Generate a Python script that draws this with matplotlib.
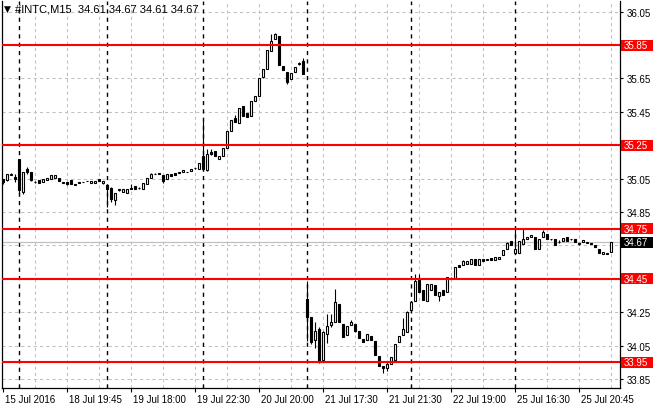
import matplotlib
matplotlib.use("Agg")
import matplotlib.pyplot as plt
import matplotlib.transforms as mtransforms
from matplotlib.patches import Rectangle

plt.rcParams["font.family"] = ["Liberation Sans", "DejaVu Sans"]

# --- data (one entry per bar) ---
title_text = "#INTC,M15  34.61 34.67 34.61 34.67"

open_ = [
    35.05, 35.04, 35.07, 35.06, 35.17, 34.97, 35.11, 35.09, 35.03, 35.04,
    35.03, 35.04, 35.05, 35.055, 35.055, 35.025, 35.03, 35.04, 35.01, 35.03,
    35.03, 35.035, 35.025, 35.025, 35.05, 35.022, 35.01, 34.996, 34.92, 34.98,
    34.97, 34.966, 34.995, 35.006, 34.994, 34.99, 35.02, 35.056, 35.075, 35.086,
    35.07, 35.05, 35.076, 35.082, 35.086, 35.09, 35.09, 35.096, 35.112, 35.11,
    35.186, 35.10, 35.21, 35.217, 35.17, 35.186, 35.235, 35.337, 35.413, 35.382,
    35.483, 35.443, 35.427, 35.517, 35.547, 35.66, 35.707, 35.815, 35.886, 35.905,
    35.725, 35.69, 35.645, 35.69, 35.738, 35.755, 34.33, 34.224, 34.086, 34.15,
    33.966, 34.118, 34.174, 34.194, 34.30, 34.18, 34.116, 34.176, 34.18, 34.14,
    34.09, 34.086, 34.108, 34.08, 33.988, 33.93, 33.918, 33.938, 33.966, 34.07,
    34.114, 34.134, 34.266, 34.32, 34.455, 34.384, 34.32, 34.38, 34.414, 34.35,
    34.384, 34.37, 34.45, 34.454, 34.534, 34.534, 34.54, 34.538, 34.566, 34.534,
    34.57, 34.564, 34.574, 34.564, 34.566, 34.59, 34.63, 34.674, 34.606, 34.606,
    34.66, 34.686, 34.70, 34.70, 34.63, 34.70, 34.72, 34.686, 34.686, 34.67,
    34.674, 34.70, 34.686, 34.686, 34.66, 34.67, 34.666, 34.66, 34.65, 34.626,
    34.598, 34.60, 34.61,
]
high = [
    35.05, 35.08, 35.085, 35.08, 35.17, 35.09, 35.12, 35.09, 35.035, 35.04,
    35.045, 35.055, 35.07, 35.07, 35.055, 35.028, 35.03, 35.04, 35.02, 35.03,
    35.032, 35.037, 35.035, 35.037, 35.05, 35.035, 35.02, 35.0, 34.966, 34.99,
    34.99, 34.99, 35.02, 35.006, 35.0, 35.026, 35.056, 35.086, 35.082, 35.086,
    35.07, 35.08, 35.076, 35.082, 35.088, 35.10, 35.092, 35.11, 35.114, 35.142,
    35.397, 35.226, 35.226, 35.217, 35.186, 35.233, 35.337, 35.40, 35.43, 35.473,
    35.483, 35.443, 35.517, 35.543, 35.65, 35.705, 35.823, 35.915, 35.92, 35.905,
    35.725, 35.69, 35.68, 35.72, 35.75, 35.77, 34.434, 34.224, 34.194, 34.16,
    34.14, 34.24, 34.24, 34.386, 34.30, 34.18, 34.166, 34.204, 34.18, 34.14,
    34.09, 34.118, 34.108, 34.08, 33.988, 33.93, 33.95, 33.98, 34.06, 34.11,
    34.214, 34.26, 34.31, 34.48, 34.48, 34.384, 34.42, 34.42, 34.414, 34.374,
    34.384, 34.46, 34.46, 34.52, 34.534, 34.56, 34.554, 34.566, 34.566, 34.57,
    34.57, 34.568, 34.574, 34.58, 34.58, 34.624, 34.67, 34.674, 34.75, 34.674,
    34.75, 34.70, 34.714, 34.70, 34.69, 34.74, 34.72, 34.688, 34.686, 34.68,
    34.694, 34.70, 34.688, 34.686, 34.665, 34.68, 34.668, 34.662, 34.65, 34.626,
    34.61, 34.602, 34.67,
]
low = [
    35.02, 35.035, 35.07, 35.03, 34.96, 34.96, 35.08, 35.035, 35.025, 35.025,
    35.03, 35.04, 35.05, 35.055, 35.035, 35.024, 35.01, 35.02, 35.01, 35.025,
    35.028, 35.033, 35.025, 35.025, 35.035, 35.015, 34.88, 34.91, 34.89, 34.975,
    34.97, 34.966, 34.99, 34.99, 34.99, 34.99, 35.02, 35.056, 35.075, 35.078,
    35.026, 35.05, 35.066, 35.07, 35.084, 35.09, 35.088, 35.096, 35.11, 35.11,
    35.10, 35.096, 35.19, 35.183, 35.17, 35.186, 35.235, 35.337, 35.387, 35.382,
    35.427, 35.42, 35.427, 35.517, 35.547, 35.65, 35.707, 35.815, 35.886, 35.73,
    35.70, 35.615, 35.645, 35.69, 35.73, 35.675, 34.08, 34.06, 34.036, 33.944,
    33.96, 34.066, 34.16, 34.194, 34.19, 34.104, 34.116, 34.176, 34.13, 34.098,
    34.074, 34.086, 34.082, 33.996, 33.93, 33.884, 33.90, 33.938, 33.966, 34.07,
    34.114, 34.134, 34.266, 34.32, 34.37, 34.326, 34.32, 34.38, 34.354, 34.32,
    34.354, 34.37, 34.45, 34.454, 34.52, 34.534, 34.54, 34.538, 34.534, 34.534,
    34.556, 34.56, 34.562, 34.564, 34.566, 34.59, 34.63, 34.654, 34.60, 34.606,
    34.66, 34.686, 34.70, 34.63, 34.63, 34.70, 34.686, 34.684, 34.654, 34.666,
    34.674, 34.674, 34.684, 34.67, 34.655, 34.67, 34.664, 34.658, 34.638, 34.606,
    34.598, 34.598, 34.61,
]
close = [
    35.03, 35.08, 35.08, 35.05, 34.98, 35.09, 35.09, 35.04, 35.03, 35.025,
    35.045, 35.055, 35.07, 35.07, 35.035, 35.025, 35.02, 35.02, 35.02, 35.025,
    35.03, 35.035, 35.035, 35.037, 35.035, 35.035, 34.99, 34.926, 34.966, 34.985,
    34.99, 34.99, 34.99, 34.99, 34.994, 35.026, 35.056, 35.076, 35.08, 35.078,
    35.036, 35.08, 35.066, 35.07, 35.086, 35.10, 35.09, 35.11, 35.112, 35.142,
    35.106, 35.20, 35.196, 35.183, 35.186, 35.233, 35.337, 35.40, 35.387, 35.473,
    35.427, 35.42, 35.517, 35.543, 35.65, 35.705, 35.823, 35.875, 35.916, 35.73,
    35.70, 35.63, 35.68, 35.72, 35.74, 35.675, 34.224, 34.074, 34.14, 33.954,
    34.134, 34.166, 34.19, 34.31, 34.19, 34.104, 34.166, 34.194, 34.14, 34.098,
    34.074, 34.118, 34.082, 33.996, 33.93, 33.918, 33.938, 33.98, 34.06, 34.11,
    34.15, 34.254, 34.31, 34.434, 34.37, 34.326, 34.42, 34.42, 34.354, 34.374,
    34.354, 34.46, 34.455, 34.52, 34.52, 34.554, 34.554, 34.566, 34.534, 34.57,
    34.556, 34.564, 34.562, 34.58, 34.58, 34.624, 34.664, 34.654, 34.63, 34.674,
    34.686, 34.70, 34.714, 34.63, 34.69, 34.73, 34.686, 34.686, 34.654, 34.67,
    34.694, 34.674, 34.686, 34.67, 34.66, 34.68, 34.666, 34.66, 34.638, 34.606,
    34.61, 34.60, 34.67,
]

level_prices = [35.85, 35.25, 34.75, 34.45, 33.95]
last_price = 34.67

y_ticks = [33.85, 34.05, 34.25, 34.45, 34.65, 34.85, 35.05, 35.25, 35.45, 35.65, 35.85, 36.05]
y_hidden = [34.45, 34.65, 35.25, 35.85]  # covered by the price boxes

day_start_bars = [4, 26, 50, 76, 102, 128]
x_tick_bars = [0, 16, 32, 48, 64, 80, 96, 112, 128, 144]
x_tick_labels = [
    "15 Jul 2016", "18 Jul 19:45", "19 Jul 18:00", "19 Jul 22:30", "20 Jul 20:00",
    "21 Jul 17:30", "21 Jul 21:30", "22 Jul 19:00", "25 Jul 16:30", "25 Jul 20:45",
]

W, H = 660, 410
fig = plt.figure(figsize=(W / 100, H / 100), dpi=100)
ax = fig.add_axes([2 / W, (H - 389) / H, 618 / W, 387 / H])
ax.set_xlim(-0.325, 154.175)
ax.set_ylim(33.796, 36.114)

# grid
for y in y_ticks:
    ax.axhline(y, color="#c0c0c0", lw=0.75, ls=(0, (3, 3)), zorder=0)
for i in range(8, len(close), 8):
    if i not in day_start_bars:
        ax.axvline(i, color="#c0c0c0", lw=0.75, ls=(0, (3, 3)), zorder=0)
for i in day_start_bars:
    ax.axvline(i, color="black", lw=1.0, ls=(0, (3, 3)), zorder=0.5)

# bid line
ax.axhline(last_price, color="#c0c0c0", lw=0.9, zorder=1)

# candles
xs = list(range(len(close)))
ax.vlines(xs, low, high, color="black", lw=0.8, zorder=2)
bottoms = [min(o, c) for o, c in zip(open_, close)]
heights = [max(abs(c - o), 0.002) for o, c in zip(open_, close)]
colors = ["white" if c >= o else "black" for o, c in zip(open_, close)]
ax.bar(xs, heights, bottom=bottoms, width=0.55, color=colors,
       edgecolor="black", linewidth=0.8, zorder=3)

# horizontal levels
for p in level_prices:
    ax.axhline(p, color="#ff0000", lw=1.5, zorder=4)

# axes styling
ax.spines["top"].set_visible(False)
for side in ("left", "right", "bottom"):
    ax.spines[side].set_linewidth(0.9)
ax.yaxis.tick_right()
ax.set_yticks(y_ticks)
ax.set_yticklabels(["" if y in y_hidden else f"{y:.2f}" for y in y_ticks])
ax.tick_params(axis="y", direction="out", length=2.5, pad=2, labelsize=7, width=0.8)
ax.set_xticks(x_tick_bars)
ax.set_xticklabels(x_tick_labels)
ax.tick_params(axis="x", direction="out", length=3, pad=1, labelsize=7, width=0.8)
shift = mtransforms.ScaledTranslation(1.5 / 100, 0, fig.dpi_scale_trans)
for lab in ax.get_xticklabels():
    lab.set_horizontalalignment("left")
    lab.set_transform(lab.get_transform() + shift)

# price boxes on the right scale
trans = mtransforms.blended_transform_factory(ax.transAxes, ax.transData)
x0 = (621 - 2) / 618
bw = 32 / 618
bh = 11 / 166.95
for p in level_prices:
    ax.add_patch(Rectangle((x0, p - bh / 2), bw, bh, transform=trans,
                           facecolor="#ff0000", edgecolor="none", clip_on=False, zorder=5))
    ax.text(x0 + 3 / 618, p, f"{p:.2f}", transform=trans, color="white",
            fontsize=7, va="center", ha="left", clip_on=False, zorder=6)
ax.add_patch(Rectangle((x0, last_price - bh / 2), bw, bh, transform=trans,
                       facecolor="black", edgecolor="none", clip_on=False, zorder=5))
ax.text(x0 + 3 / 618, last_price, f"{last_price:.2f}", transform=trans, color="white",
        fontsize=7, va="center", ha="left", clip_on=False, zorder=6)

# chart caption
fig.text(4 / W, 1 - 9 / H, "\u25bc", fontsize=6.5, va="center", ha="left",
         family=["DejaVu Sans"])
fig.text(15 / W, 1 - 10 / H, title_text, fontsize=8, va="center", ha="left")

fig.savefig("out.png", dpi=100, facecolor="white")
